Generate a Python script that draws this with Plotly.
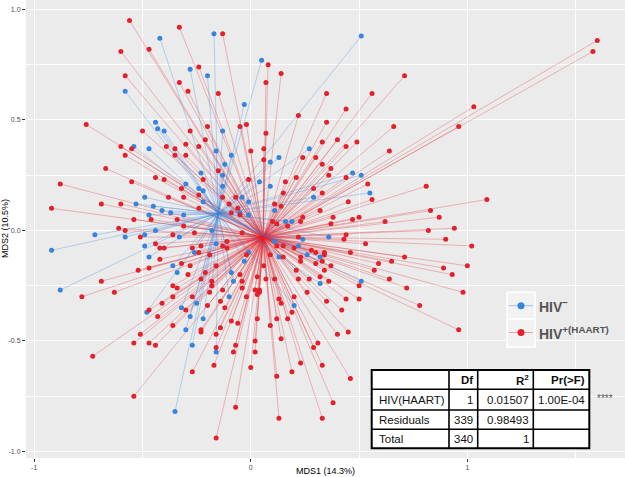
import plotly.graph_objects as go

# ---------------- data ----------------
red_x = [-0.56, -0.33, -0.13, -0.60, -0.47, -0.58, -0.24, 0.08, 0.14, -0.33, -0.29, -0.15, 0.07,
         -0.76, -0.50, -0.20, -0.05, -0.02, 0.07, 0.22, -0.28, -0.21, -0.60, -0.39, -0.30, -0.24,
         -0.58, -0.55, -0.35, -0.35, -0.30, 0.00, 0.06, 0.06, 0.24, 0.30, -0.67, -0.15, -0.44,
         -0.40, -0.55, -0.01, 0.16, 0.21, -0.88, -0.32, -0.22, 0.29, 0.15, -0.38, -0.31, -0.24,
         -0.13, -0.07, -0.69, -0.60, -0.24, -0.10, 0.14, 0.11, -0.92, -0.54, -0.46, -0.34, -0.31,
         -0.61, -0.58, -0.51, -0.36, -0.26, -0.04, 0.10, 0.12, 0.17, 0.23, 0.24, -0.09, -0.06, -0.05,
         1.60, 1.58, 0.71, 0.35, 0.56, 0.44, 1.03, 0.96, 0.35, 0.66, 0.40, 0.44, 0.49, 0.33, 0.64,
         0.33, 0.37, 0.36, 0.44, 0.54, 0.81, 0.33, 0.56, 0.45, 1.09, 0.32, 0.83, 0.38, 0.47, 0.50,
         0.62, 0.87, 0.37, 0.94, 0.82, 0.44, 0.90, 0.43,
         -0.44, -0.23, -0.11, -0.42, -0.40, -0.27, -0.24, -0.13, -0.11, -0.19, -0.02, -0.42, -0.32,
         -0.28, -0.16, -0.52, -0.47, -0.29, -0.21, -0.05, -0.69, -0.23, -0.18, -0.04, 0.03, 0.07,
         0.11, -0.36, -0.34, -0.18, -0.04, 0.02, 0.04, 0.04, 0.03, -0.63, -0.19, -0.13, -0.78,
         -0.36, -0.27, -0.14, -0.02, 0.13, 0.20, 0.14, -0.41, -0.20, -0.47, -0.30, -0.12, 0.19,
         -0.43, 0.03, -0.09, -0.06, 0.12, 0.17, 0.09, -0.36, -0.23, -0.23, -0.14, -0.51, 0.14,
         -0.54, -0.47, -0.44, -0.07, 0.02, -0.16, -0.16, 0.29, 0.31, -0.08, 0.02, -0.73, 0.23,
         -0.17, 0.00, -0.27, 0.12, 0.19, -0.54, -0.07, 0.13, -0.16,
         0.21, 0.23, 0.22, 0.15, 0.15, 0.20, 0.22, 0.53, 1.02, 0.28, 0.30, 0.34, 0.46, 0.71, 0.34,
         0.23, 0.65, 0.33, 0.59, 0.89, 1.00, 0.30, 0.37, 0.57, 0.93, 0.34, 0.32, 0.36, 0.64, 0.27,
         0.50, 0.72, 0.98, 0.26, 0.50, 0.44, 0.35, 0.78, 0.42, 0.96, 0.45, 0.40, 0.33, 0.46, 0.38,
         0.33, 0.12, 0.09, 0.06]
red_y = [0.95, 0.92, 0.89, 0.81, 0.82, 0.70, 0.74, 0.75, 0.71, 0.67, 0.63, 0.62, 0.67,
         0.48, 0.45, 0.47, 0.47, 0.48, 0.44, 0.52, 0.45, 0.41, 0.38, 0.38, 0.39, 0.38,
         0.34, 0.37, 0.37, 0.34, 0.34, 0.36, 0.37, 0.32, 0.33, 0.33, 0.28, 0.27, 0.24,
         0.23, 0.22, 0.23, 0.22, 0.24, 0.21, 0.19, 0.23, 0.19, 0.17, 0.15, 0.15, 0.16,
         0.15, 0.15, 0.12, 0.12, 0.10, 0.12, 0.11, 0.12, 0.10, 0.05, 0.05, 0.05, 0.02,
         0.01, 0.00, -0.03, -0.02, -0.01, -0.01, 0.04, 0.03, 0.02, 0.04, 0.06, 0.08, 0.10, 0.07,
         0.86, 0.81, 0.70, 0.62, 0.62, 0.55, 0.56, 0.47, 0.49, 0.47, 0.41, 0.38, 0.40, 0.40, 0.36,
         0.30, 0.28, 0.25, 0.24, 0.21, 0.20, 0.17, 0.14, 0.13, 0.14, 0.09, 0.09, 0.06, 0.05, 0.06,
         0.04, 0.06, 0.03, 0.01, 0.00, -0.02, -0.04, -0.04,
         -0.06, -0.07, -0.05, -0.08, -0.08, -0.08, -0.10, -0.07, -0.08, -0.11, -0.11, -0.13, -0.15,
         -0.16, -0.16, -0.18, -0.17, -0.20, -0.19, -0.20, -0.23, -0.22, -0.23, -0.23, -0.21, -0.22,
         -0.22, -0.25, -0.26, -0.25, -0.26, -0.27, -0.27, -0.28, -0.29, -0.28, -0.28, -0.27, -0.30,
         -0.30, -0.30, -0.32, -0.30, -0.31, -0.30, -0.33, -0.33, -0.34, -0.36, -0.36, -0.35, -0.37,
         -0.39, -0.40, -0.41, -0.42, -0.40, -0.40, -0.43, -0.43, -0.45, -0.46, -0.44, -0.47, -0.49,
         -0.51, -0.51, -0.52, -0.52, -0.50, -0.47, -0.53, -0.53, -0.51, -0.55, -0.55, -0.57, -0.60,
         -0.61, -0.62, -0.64, -0.66, -0.64, -0.75, -0.80, -0.85, -0.94,
         -0.18, -0.14, -0.22, -0.12, -0.07, -0.08, -0.03, -0.06, -0.07, -0.09, -0.10, -0.10, -0.10, -0.12, -0.11,
         -0.12, -0.14, -0.14, -0.15, -0.17, -0.16, -0.15, -0.16, -0.18, -0.20, -0.18, -0.21, -0.23, -0.22, -0.22,
         -0.25, -0.26, -0.28, -0.28, -0.31, -0.31, -0.32, -0.34, -0.36, -0.45, -0.46, -0.47, -0.61, -0.67, -0.78,
         -0.85, -0.07, -0.11, -0.16]

blue_x = [-0.42, -0.17, 0.05, -0.28, -0.20, -0.58, -0.03, -0.44, -0.43, -0.40, -0.13, -0.54, -0.47,
          -0.16, -0.09, -0.12, 0.09, 0.13, 0.27, -0.23, -0.13, -0.30, -0.24, -0.22, -0.13, 0.04,
          0.09, -0.49, -0.04, -0.01, -0.53, -0.22, 0.29, -0.45, -0.41, -0.37, -0.31, -0.47, 0.11,
          -0.05, -0.01, 0.16, 0.19, -0.72, -0.58, -0.49, -0.44, -0.33, -0.18, 0.24, 0.51, 0.47,
          0.51, 0.55, 0.36, -0.92, -0.49, -0.47, -0.26, -0.16, -0.88, -0.36, -0.34, -0.09, -0.08,
          -0.18, -0.01, -0.03, -0.10, -0.25, -0.32, -0.48, -0.28, -0.22, -0.30, -0.27, -0.16, -0.35,
          0.11, 0.13, 0.20, 0.22, 0.26, 0.32, 0.51, 0.32]
blue_y = [0.87, 0.89, 0.77, 0.73, 0.70, 0.63, 0.57, 0.49, 0.46, 0.45, 0.45, 0.38, 0.37,
          0.36, 0.34, 0.30, 0.31, 0.33, 0.37, 0.26, 0.25, 0.21, 0.19, 0.18, 0.20, 0.22,
          0.20, 0.15, 0.15, 0.13, 0.12, 0.13, 0.15, 0.11, 0.09, 0.08, 0.07, 0.07, 0.09,
          0.08, 0.07, 0.04, 0.04, -0.02, -0.03, -0.02, 0.00, -0.03, 0.00, -0.04, 0.88, 0.26,
          0.25, 0.17, -0.03, -0.09, -0.07, -0.12, -0.10, -0.06, -0.27, -0.16, -0.19, -0.19, -0.23,
          -0.25, -0.10, -0.14, -0.30, -0.33, -0.35, -0.37, -0.39, -0.40, -0.45, -0.52, -0.55, -0.82,
          -0.05, -0.12, -0.34, -0.07, -0.11, -0.12, -0.23, -0.24]

centroid_neg = (-0.15, 0.076)
centroid_pos = (0.057, -0.030)

group_labels = ["HIV<sup>\u2212</sup>", "HIV<sup>+(HAART)</sup>"]

x_tickvals = [-1, 0, 1]
x_ticktext = ["-1", "0", "1"]
y_tickvals = [-1.0, -0.5, 0.0, 0.5, 1.0]
y_ticktext = ["-1.0", "-0.5", "0.0", "0.5", "1.0"]

table_header = ["", "Df", "R<sup>2</sup>", "Pr(&gt;F)"]
table_rows = [
    ["HIV(HAART)", "1", "0.01507", "1.00E-04"],
    ["Residuals", "339", "0.98493", ""],
    ["Total", "340", "1", ""],
]
signif = "****"

RED = "#E3212B"
BLUE = "#3585DE"
RED_LINE = "rgba(227,33,43,0.33)"
BLUE_LINE = "rgba(53,133,222,0.35)"

# ---------------- figure ----------------
W, H = 625, 477
ML, MR, MT, MB = 26, 0, 0, 19
PW, PH = W - ML - MR, H - MT - MB


def px(x):
    return (x - ML) / PW


def py(y):
    return (H - MB - y) / PH


def spokes(cx, cy, xs, ys):
    sx, sy = [], []
    for a, b in zip(xs, ys):
        sx += [cx, a, None]
        sy += [cy, b, None]
    return sx, sy


fig = go.Figure()
rx, ry = spokes(centroid_pos[0], centroid_pos[1], red_x, red_y)
bx, by = spokes(centroid_neg[0], centroid_neg[1], blue_x, blue_y)
fig.add_trace(go.Scatter(x=rx, y=ry, mode="lines", line=dict(color=RED_LINE, width=0.9),
                         hoverinfo="skip", showlegend=False))
fig.add_trace(go.Scatter(x=bx, y=by, mode="lines", line=dict(color=BLUE_LINE, width=0.9),
                         hoverinfo="skip", showlegend=False))
fig.add_trace(go.Scatter(x=blue_x, y=blue_y, mode="markers",
                         marker=dict(color=BLUE, size=5), showlegend=False))
fig.add_trace(go.Scatter(x=red_x, y=red_y, mode="markers",
                         marker=dict(color=RED, size=5), showlegend=False))

axis_common = dict(
    showgrid=True, gridcolor="white", gridwidth=1.1, zeroline=False,
    ticks="outside", ticklen=3, tickwidth=1, tickcolor="#333333",
    tickfont=dict(family="Liberation Sans, Arial", size=7, color="#4D4D4D"),
    showline=False, automargin=False,
)
fig.update_xaxes(range=[-1.038, 1.728], tickvals=x_tickvals, ticktext=x_ticktext,
                 minor=dict(dtick=0.5, tick0=0, showgrid=True, gridcolor="white", gridwidth=0.5),
                 **axis_common)
fig.update_yaxes(range=[-1.030, 1.043], tickvals=y_tickvals, ticktext=y_ticktext,
                 minor=dict(dtick=0.25, tick0=0, showgrid=True, gridcolor="white", gridwidth=0.5),
                 **axis_common)

shapes = []
annotations = []

# axis titles
annotations.append(dict(text="MDS1 (14.3%)", x=px(325), y=py(471), xref="paper", yref="paper",
                        showarrow=False, xanchor="center", yanchor="middle",
                        font=dict(family="Liberation Sans, Arial", size=9, color="black")))
annotations.append(dict(text="MDS2 (10.5%)", x=px(5), y=py(229), xref="paper", yref="paper",
                        showarrow=False, xanchor="center", yanchor="middle", textangle=-90,
                        font=dict(family="Liberation Sans, Arial", size=9, color="black")))

# legend (drawn)
key_rows = [(292, 319, 305.7, BLUE, "rgba(53,133,222,0.45)"), (319, 347, 332.5, RED, "rgba(227,33,43,0.40)")]
for (y0, y1, yc, col, lcol), lab in zip(key_rows, group_labels):
    shapes.append(dict(type="rect", xref="paper", yref="paper", x0=px(507), x1=px(535),
                       y0=py(y1), y1=py(y0), fillcolor="#F2F2F2", line=dict(color="white", width=1.5)))
    shapes.append(dict(type="line", xref="paper", yref="paper", x0=px(509), x1=px(533),
                       y0=py(yc), y1=py(yc), line=dict(color=lcol, width=1)))
    shapes.append(dict(type="circle", xref="paper", yref="paper", x0=px(517.5), x1=px(524.5),
                       y0=py(yc + 3.5), y1=py(yc - 3.5), fillcolor=col, line=dict(width=0)))
    annotations.append(dict(text="<b>" + lab + "</b>", x=px(537), y=py(yc), xref="paper", yref="paper",
                            showarrow=False, xanchor="left", yanchor="middle",
                            font=dict(family="Liberation Sans, Arial", size=14, color="#555555")))

# PERMANOVA table (drawn)
col_edges = [371.7, 449, 477.7, 533.3, 589.3]
row_edges = [370, 389.3, 410, 429.3, 448.3]
shapes.append(dict(type="rect", xref="paper", yref="paper", x0=px(col_edges[0]), x1=px(col_edges[-1]),
                   y0=py(row_edges[-1]), y1=py(row_edges[0]), fillcolor="white",
                   line=dict(color="black", width=2)))
for cx_ in col_edges[1:-1]:
    shapes.append(dict(type="line", xref="paper", yref="paper", x0=px(cx_), x1=px(cx_),
                       y0=py(row_edges[-1]), y1=py(row_edges[0]), line=dict(color="black", width=1.6)))
for ry_ in row_edges[1:-1]:
    shapes.append(dict(type="line", xref="paper", yref="paper", x0=px(col_edges[0]), x1=px(col_edges[-1]),
                       y0=py(ry_), y1=py(ry_), line=dict(color="black", width=1.6)))

all_rows = [table_header] + table_rows
for ri, row in enumerate(all_rows):
    yc = (row_edges[ri] + row_edges[ri + 1]) / 2
    for ci, txt in enumerate(row):
        if not txt:
            continue
        if ri == 0:
            txt = "<b>" + txt + "</b>"
        if ci == 0:
            xx, anc = col_edges[0] + 5.5, "left"
        else:
            xx, anc = col_edges[ci + 1] - 2.5, "right"
        annotations.append(dict(text=txt, x=px(xx), y=py(yc), xref="paper", yref="paper",
                                showarrow=False, xanchor=anc, yanchor="middle",
                                font=dict(family="Liberation Sans, Arial", size=11.5, color="#111111")))
annotations.append(dict(text=signif, x=px(605), y=py(398), xref="paper", yref="paper",
                        showarrow=False, xanchor="center", yanchor="middle",
                        font=dict(family="Liberation Sans, Arial", size=10, color="#555555")))

fig.update_layout(
    width=W, height=H,
    margin=dict(l=ML, r=MR, t=MT, b=MB, pad=0),
    paper_bgcolor="white", plot_bgcolor="#EBEBEB",
    showlegend=False,
    shapes=shapes, annotations=annotations,
)

fig.write_html("out.html", config={"displayModeBar": False},
               post_script="document.body.style.margin='0';document.body.style.overflow='hidden';")
